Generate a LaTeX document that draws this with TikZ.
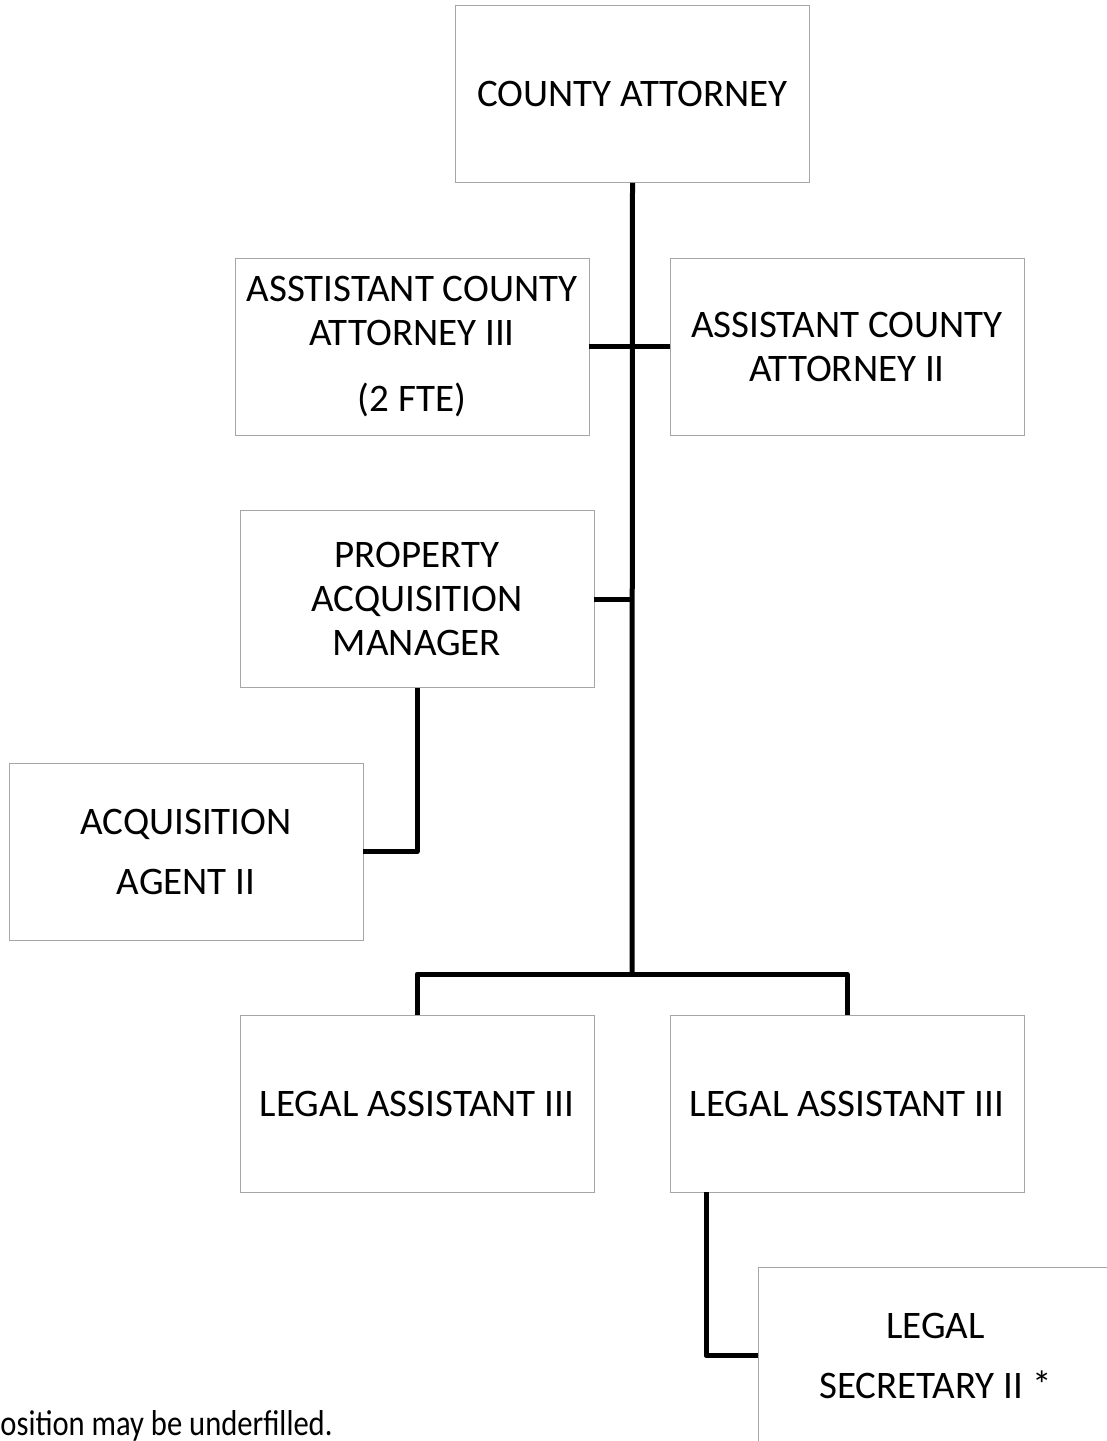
\documentclass[tikz,border=0pt]{standalone}
\usepackage{fontspec}
\setmainfont{Carlito}

\begin{document}
\begin{tikzpicture}[x=0.5pt,y=-0.5pt,
    every node/.style={draw=gray!70,thin,minimum width=177pt,minimum height=88.5pt,
      inner sep=0pt,align=center,font=\fontsize{19.5}{22}\selectfont},
    link/.style={draw=black,line width=2.5pt,line join=round}]
    \useasboundingbox (0,0) rectangle (1107,1441);

    \node (CA) at (632.5, 94) {COUNTY ATTORNEY};
    \node (ACA3) at (412, 346.5) {ASSTISTANT COUNTY\\ATTORNEY III\\[11pt](2 FTE)};
    \node (ACA2) at (847, 346.5) {ASSISTANT COUNTY\\ATTORNEY II};
    \node (PAM) at (417, 599) {PROPERTY\\ACQUISITION\\MANAGER};
    \node (AG) at (186, 851.5) {ACQUISITION\\[8pt]AGENT II};
    \node (LA1) at (417, 1103.5) {LEGAL ASSISTANT III};
    \node (LA2) at (847, 1103.5) {LEGAL ASSISTANT III};
    \node (LS) at (935.5, 1355.5) {LEGAL\\[8pt]SECRETARY II *};
    \node[draw=none,minimum width=0pt,minimum height=0pt,anchor=base east,
      font=\fontsize{18}{21}\selectfont,transform shape,xscale=0.85] (note) at (333, 1435) {position may be underfilled.};

    \coordinate (hub) at (632, 974);
    \coordinate (tap) at (706, 1192);

    \path[link] (CA.south) edge (hub);
    \path[link] (ACA3.east) edge (ACA2.west);
    \path[link] (PAM.east) edge (PAM.east -| hub);
    \draw[link] (PAM.south) |- (AG.east);
    \draw[link] (LA1.north) |- (hub) -| (LA2.north);
    \draw[link] (tap) |- (LS.west);
  \end{tikzpicture}
\end{document}
